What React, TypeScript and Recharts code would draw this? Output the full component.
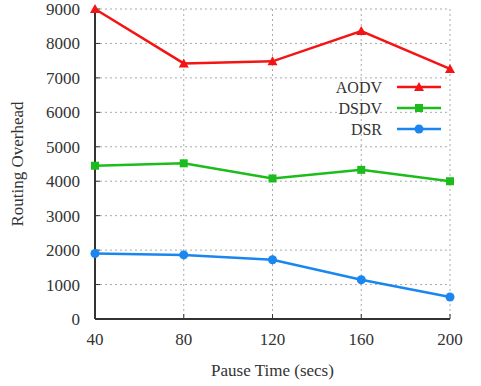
import React from 'react';
import { LineChart, Line, XAxis, YAxis, CartesianGrid } from 'recharts';

const pauseTimes = [40, 80, 120, 160, 200];
const aodv = [9000, 7420, 7480, 8360, 7260];
const dsdv = [4450, 4520, 4080, 4330, 4000];
const dsr = [1900, 1860, 1720, 1140, 640];
const yTicks = [0, 1000, 2000, 3000, 4000, 5000, 6000, 7000, 8000, 9000];
const xTicks = [40, 80, 120, 160, 200];
const seriesNames = ['AODV', 'DSDV', 'DSR'];
const seriesColors = ['#f41414', '#1cbc1c', '#1a86f0'];

const data = pauseTimes.map((t, i) => ({ t, aodv: aodv[i], dsdv: dsdv[i], dsr: dsr[i] }));

const FONT = '"Liberation Serif", "Times New Roman", serif';

const Triangle = (props: any) => {
  const { cx, cy, fill } = props;
  if (cx == null || cy == null) return null;
  return <path d={`M${cx},${cy - 5}L${cx + 5},${cy + 4}L${cx - 5},${cy + 4}Z`} fill={fill} />;
};
const Square = (props: any) => {
  const { cx, cy, fill } = props;
  if (cx == null || cy == null) return null;
  return <rect x={cx - 4} y={cy - 4} width={8} height={8} fill={fill} />;
};
const Circle = (props: any) => {
  const { cx, cy, fill } = props;
  if (cx == null || cy == null) return null;
  return <circle cx={cx} cy={cy} r={4.5} fill={fill} />;
};
const markers = [Triangle, Square, Circle];

const YLabel = (props: any) => {
  const vb = props.viewBox || {};
  const x = (vb.x || 0) + 17;
  const y = (vb.y || 0) + (vb.height || 0) / 2;
  return (
    <text x={x} y={y} transform={`rotate(-90 ${x} ${y})`} textAnchor="middle" dominantBaseline="central"
      fontFamily={FONT} fontSize={17} fill="#333">Routing Overhead</text>
  );
};
const XLabel = (props: any) => {
  const vb = props.viewBox || {};
  const x = (vb.x || 0) + (vb.width || 0) / 2;
  const y = (vb.y || 0) + 57;
  return (
    <text x={x} y={y} textAnchor="middle" fontFamily={FONT} fontSize={17} fill="#333">Pause Time (secs)</text>
  );
};

const LegendBox = () => (
  <svg width={200} height={70} style={{ position: 'absolute', left: 280, top: 76 }}>
    {seriesNames.map((name, i) => {
      const y = 11 + i * 21;
      const M = markers[i];
      return (
        <g key={name}>
          <text x={102} y={y} textAnchor="end" dominantBaseline="central" fontFamily={FONT} fontSize={16} fill="#333">{name}</text>
          <line x1={117} x2={161} y1={y} y2={y} stroke={seriesColors[i]} strokeWidth={2.5} />
          <M cx={139} cy={y} fill={seriesColors[i]} />
        </g>
      );
    })}
  </svg>
);

export default function App() {
  const keys = ['aodv', 'dsdv', 'dsr'];
  return (
    <div style={{ position: 'absolute', left: 0, top: 0, width: 481, height: 386, background: '#fff' }}>
      <LineChart width={481} height={386} data={data} margin={{ top: 9, right: 31, bottom: 0, left: 0 }}>
        <CartesianGrid stroke="#aaa" strokeDasharray="2 3" />
        <XAxis dataKey="t" type="number" domain={[40, 200]} ticks={xTicks} height={67}
          axisLine={{ stroke: '#333', strokeWidth: 2 }} tickLine={{ stroke: '#333' }} tickSize={-5} tickMargin={19}
          tick={{ fontFamily: FONT, fontSize: 17, fill: '#333' }} label={<XLabel />} />
        <XAxis xAxisId="top" orientation="top" dataKey="t" type="number" domain={[40, 200]} ticks={xTicks} height={0}
          axisLine={{ stroke: '#aaa', strokeWidth: 1.5 }} tickLine={{ stroke: '#333' }} tickSize={-5} tick={false} />
        <YAxis type="number" domain={[0, 9000]} ticks={yTicks} width={95} interval={0}
          axisLine={{ stroke: '#333', strokeWidth: 2 }} tickLine={{ stroke: '#333' }} tickSize={-5} tickMargin={20}
          tick={{ fontFamily: FONT, fontSize: 17, fill: '#333' }} label={<YLabel />} />
        <YAxis yAxisId="right" orientation="right" type="number" domain={[0, 9000]} ticks={yTicks} width={0}
          axisLine={{ stroke: '#333', strokeWidth: 1.5 }} tickLine={{ stroke: '#333' }} tickSize={-5} tick={false} />
        {keys.map((k, i) => {
          const M = markers[i];
          return (
            <Line key={k} dataKey={k} type="linear" stroke={seriesColors[i]} strokeWidth={2.5}
              dot={(p: any) => <M key={`${k}-${p.index}`} cx={p.cx} cy={p.cy} fill={seriesColors[i]} />}
              activeDot={false} isAnimationActive={false} />
          );
        })}
      </LineChart>
      <LegendBox />
    </div>
  );
}
